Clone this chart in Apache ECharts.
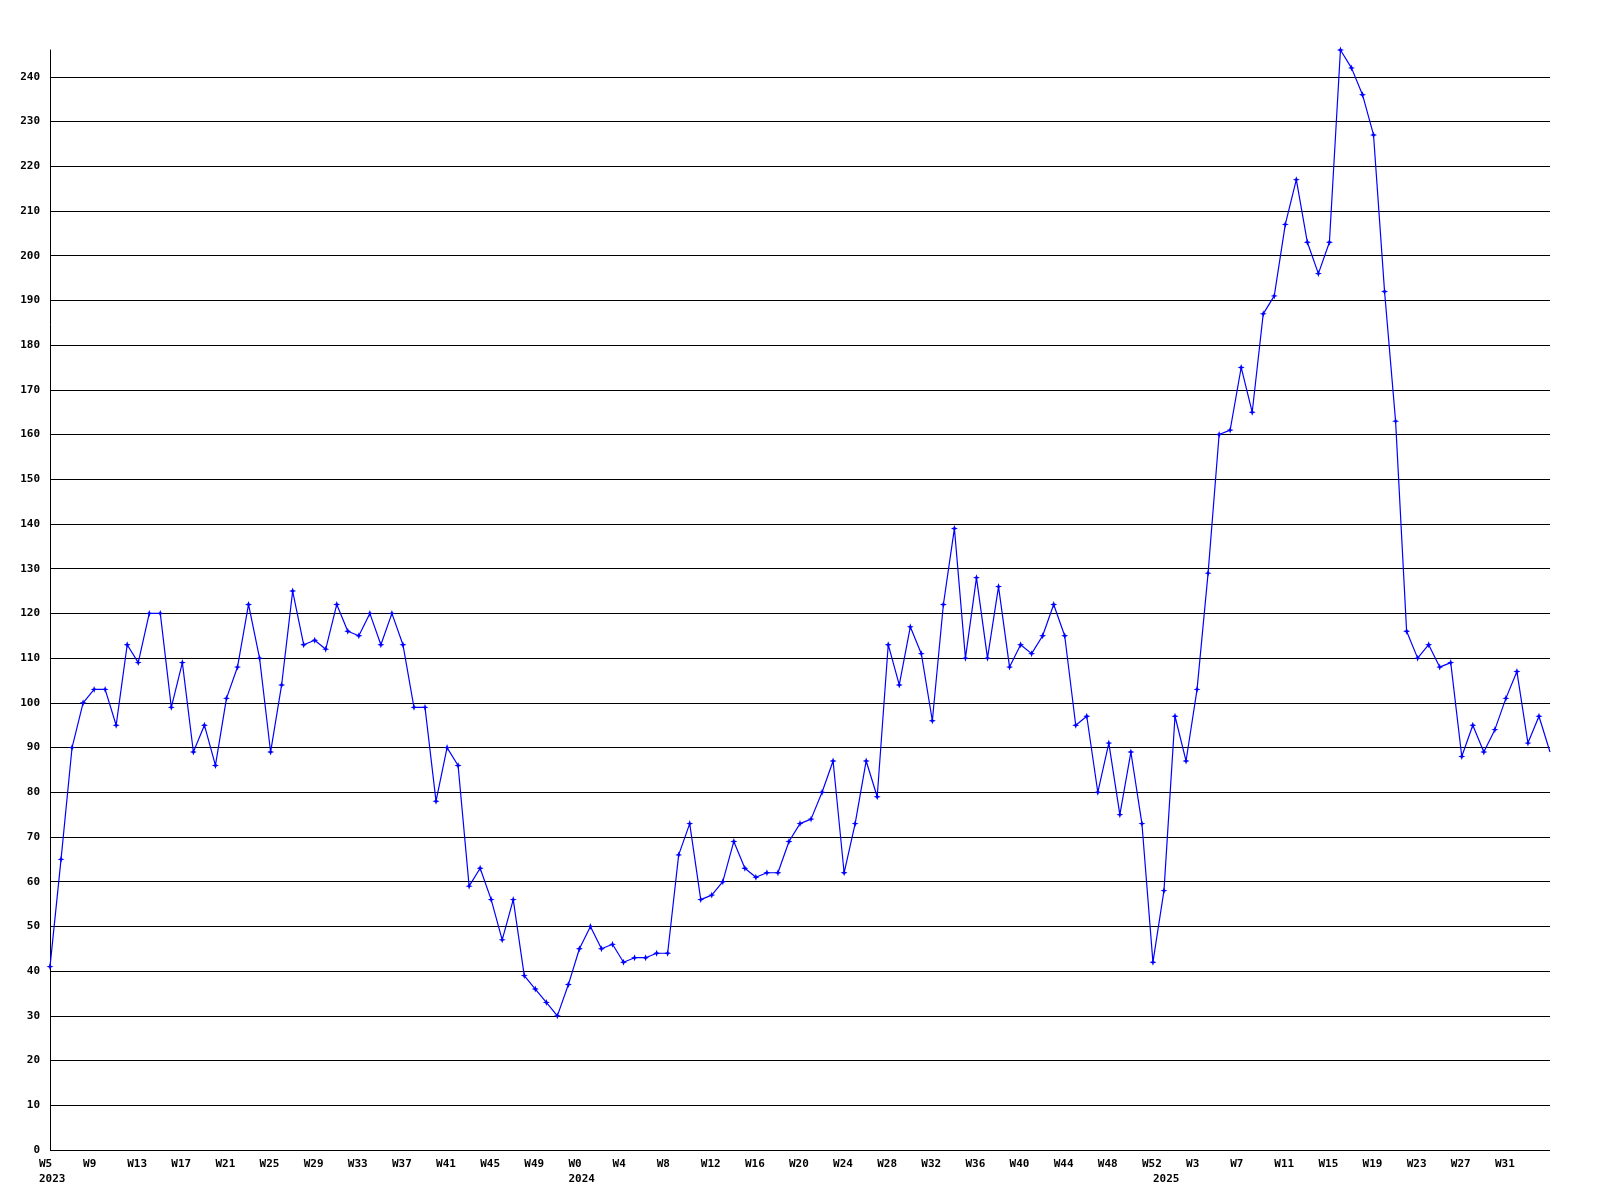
<!DOCTYPE html>
<html>
<head>
<meta charset="utf-8">
<script src="https://cdn.jsdelivr.net/npm/echarts@6/dist/echarts.min.js"></script>
<style>
  html, body { margin: 0; padding: 0; background: #fff; }
  #chart { width: 1600px; height: 1200px; }
</style>
</head>
<body>
<div id="chart"></div>
<script>
// Week segments: [year, first week, last week]
var weekSegments = [[2023, 5, 52], [2024, 0, 52], [2025, 0, 35]];

// Weekly values (2023 W5 .. 2025 W35)
var values2023 = [41, 65, 90, 100, 103, 103, 95, 113, 109, 120, 120, 99, 109, 89, 95, 86,
  101, 108, 122, 110, 89, 104, 125, 113, 114, 112, 122, 116, 115, 120, 113, 120,
  113, 99, 99, 78, 90, 86, 59, 63, 56, 47, 56, 39, 36, 33, 30, 37];
var values2024 = [45, 50, 45, 46, 42, 43, 43, 44, 44, 66, 73, 56, 57, 60, 69, 63,
  61, 62, 62, 69, 73, 74, 80, 87, 62, 73, 87, 79, 113, 104, 117, 111,
  96, 122, 139, 110, 128, 110, 126, 108, 113, 111, 115, 122, 115, 95, 97, 80,
  91, 75, 89, 73, 42];
var values2025 = [58, 97, 87, 103, 129, 160, 161, 175, 165, 187, 191, 207, 217, 203, 196, 203,
  246, 242, 236, 227, 192, 163, 116, 110, 113, 108, 109, 88, 95, 89, 94, 101,
  107, 91, 97, 89];

// Y axis gridline / tick values
var yTicks = [0, 10, 20, 30, 40, 50, 60, 70, 80, 90, 100, 110, 120, 130, 140, 150, 160,
  170, 180, 190, 200, 210, 220, 230, 240];
var yMax = 246;
var labelEvery = 4;

var categories = [], weekLabels = [], yearStart = {};
weekSegments.forEach(function (s) {
  for (var w = s[1]; w <= s[2]; w++) {
    if (w === s[1]) yearStart[categories.length] = String(s[0]);
    categories.push(s[0] + '-W' + w);
    weekLabels.push('W' + w);
  }
});
var values = values2023.concat(values2024, values2025);
var lastIdx = values.length - 1;
var seriesData = values.map(function (v, i) {
  return i === lastIdx ? { value: v, symbol: 'none' } : v;
});

var FONT = 'DejaVu Sans Mono';
var chart = echarts.init(document.getElementById('chart'), null, { renderer: 'canvas' });
chart.setOption({
  backgroundColor: '#ffffff',
  animation: false,
  grid: { left: 50, right: 50, top: 50, bottom: 50, containLabel: false },
  xAxis: {
    type: 'category',
    data: categories,
    boundaryGap: false,
    axisLine: { show: false },
    axisTick: { show: false },
    splitLine: { show: false },
    axisLabel: {
      interval: function (idx) {
        return (idx % labelEvery === 0 && idx < lastIdx) || yearStart[idx] !== undefined;
      },
      formatter: function (val, idx) {
        var s = idx % labelEvery === 0 ? weekLabels[idx] : '';
        if (yearStart[idx] !== undefined) s += '\n' + yearStart[idx];
        return s;
      },
      align: 'left',
      padding: [0, 0, 0, -11],
      margin: 7,
      lineHeight: 15,
      color: '#000',
      fontFamily: FONT,
      fontWeight: 'bold',
      fontSize: 11
    }
  },
  yAxis: {
    type: 'value',
    min: 0,
    max: yMax,
    interval: 10,
    axisLine: { show: true, lineStyle: { color: '#000', width: 1 } },
    axisTick: { show: false },
    splitLine: { show: false },
    axisLabel: {
      margin: 10,
      color: '#000',
      fontFamily: FONT,
      fontWeight: 'bold',
      fontSize: 11,
      formatter: function (v) { return yTicks.indexOf(v) >= 0 ? String(v) : ''; }
    }
  },
  series: [{
    type: 'line',
    data: seriesData,
    symbol: 'path://M0,-3 L0.8,-0.8 L3,0 L0.8,0.8 L0,3 L-0.8,0.8 L-3,0 L-0.8,-0.8 Z',
    symbolSize: 7,
    showAllSymbol: true,
    itemStyle: { color: '#0000ff' },
    lineStyle: { color: '#0000ff', width: 1.2 },
    markLine: {
      silent: true,
      symbol: ['none', 'none'],
      label: { show: false },
      lineStyle: { color: '#000', width: 1, type: 'solid' },
      emphasis: { disabled: true },
      data: yTicks.map(function (v) { return { yAxis: v }; }),
      z: 1
    },
    z: 3
  }]
});
</script>
</body>
</html>
